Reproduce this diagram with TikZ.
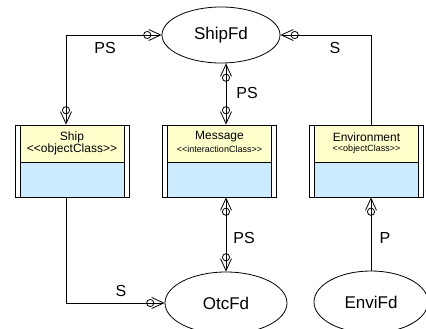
\documentclass[tikz,border=0pt]{standalone}
\usepackage{fontspec}
\setmainfont{Liberation Sans}
\usetikzlibrary{arrows.meta,shapes.geometric}
\definecolor{hdr}{HTML}{FFFFCC}
\definecolor{bdy}{HTML}{CCEBFF}
\newcommand{\lt}{\mbox{<}}
\newcommand{\gt}{\mbox{>}}
\begin{document}
\begin{tikzpicture}[x=1pt,y=-1pt,line width=0.8pt,
  fd/.style={ellipse,draw,inner sep=0pt,font=\fontsize{17}{20}\selectfont},
  cls/.style={draw,rectangle,inner sep=0pt,minimum width=114pt,minimum height=72pt,
    path picture={
      \coordinate (pa) at (path picture bounding box.south west);
      \coordinate (pb) at (path picture bounding box.north east);
      \coordinate (pc) at (path picture bounding box.north west);
      \coordinate (pd) at (path picture bounding box.south east);
      \fill[bdy] (pa) rectangle (pb);
      \fill[hdr] (pc) rectangle ([yshift=35pt]pd);
      \fill[white] (pa) rectangle ([xshift=5pt]pc);
      \fill[white] (pd) rectangle ([xshift=-5pt]pb);
      \draw ([xshift=5pt]pa) -- ([xshift=5pt]pc);
      \draw ([xshift=-5pt]pd) -- ([xshift=-5pt]pb);
      \draw ([xshift=5pt,yshift=35pt]pa) -- ([xshift=-5pt,yshift=35pt]pd);
    }},
  ttl/.style={inner sep=0pt,font=\fontsize{12}{14}\selectfont},
  stbig/.style={inner sep=0pt,font=\fontsize{12}{14}\selectfont},
  stsmall/.style={inner sep=0pt,font=\fontsize{9}{11}\selectfont},
  lbl/.style={inner sep=0pt,font=\fontsize{16}{18}\selectfont},
  mkend/.style={-{Circle[open,length=8pt,width=8pt,sep=-3pt]Straight Barb[length=12pt,width=11pt]}},
  mkboth/.style={{Straight Barb[length=12pt,width=11pt]Circle[open,length=8pt,width=8pt,sep=-3pt]}-{Circle[open,length=8pt,width=8pt,sep=-3pt]Straight Barb[length=12pt,width=11pt]}}
]
\useasboundingbox (0,0) rectangle (426,329);

% entities
\node[fd,minimum width=118pt,minimum height=56pt] (shipfd) at (221,35) {ShipFd};
\node[fd,minimum width=122pt,minimum height=62pt] (otcfd) at (226,303) {OtcFd};
\node[fd,minimum width=114pt,minimum height=62pt] (envifd) at (371,302) {EnviFd};

% classes
\node[cls] (ship) at (72,161) {};
\node[cls] (message) at (219.5,161) {};
\node[cls] (env) at (366.5,161) {};

\node[ttl] (ship-t) at (72,137) {Ship};
\node[stbig] (ship-s) at (72,149) {\lt\lt objectClass\gt\gt};
\node[ttl] (message-t) at (219.5,137) {Message};
\node[stsmall] (message-s) at (219.5,149) {\lt\lt interactionClass\gt\gt};
\node[ttl] (env-t) at (366.5,137) {Environment};
\node[stsmall] (env-s) at (366.5,149) {\lt\lt objectClass\gt\gt};

% connectors
\draw[mkboth] ([xshift=-6pt]ship.north) |- (shipfd.west);
\draw[mkboth] (message.north -| otcfd.north) -- (shipfd.south -| otcfd.north);
\draw[mkboth] (message.south -| otcfd.north) -- (otcfd.north);
\draw[mkend] ([xshift=-6pt]ship.south) |- (otcfd.west);
\draw[mkend] (envifd.north |- env.north) |- (shipfd.east);
\draw[mkend] (envifd.north) -- (envifd.north |- env.south);

% labels
\node[lbl] (l1) at (105,48) {PS};
\node[lbl] (l2) at (247,93) {PS};
\node[lbl] (l3) at (244,238) {PS};
\node[lbl] (l4) at (121,291) {S};
\node[lbl] (l5) at (335,48) {S};
\node[lbl] (l6) at (385,238) {P};
\end{tikzpicture}
\end{document}
